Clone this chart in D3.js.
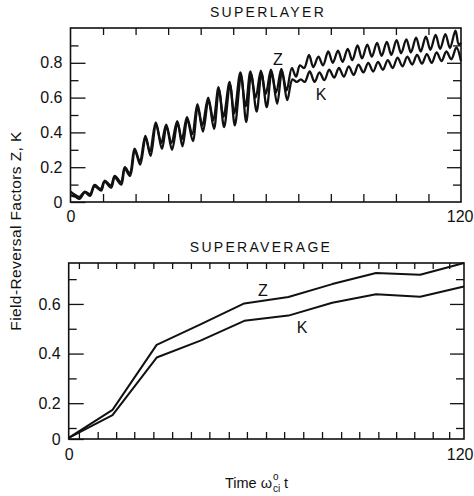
<!DOCTYPE html>
<html>
<head>
<meta charset="utf-8">
<script src="https://cdn.jsdelivr.net/npm/d3@7"></script>
<style>
  body { margin: 0; background: #fff; }
  svg { display: block; font-family: "Liberation Sans", Arial, sans-serif; }
</style>
</head>
<body>
<script>
// superlayer run: Z and K as [time, value]
const zLayer = [
  [0, 0.06], [1.5, 0.04], [2.8, 0.03], [4.4, 0.06], [6.0, 0.045], [7.4, 0.098], [9.3, 0.075],
  [10.5, 0.122], [12.4, 0.095], [13.6, 0.15], [15.5, 0.115], [16.7, 0.2], [18.2, 0.165],
  [19.7, 0.307], [21.3, 0.235], [23.0, 0.38], [24.4, 0.29], [26.2, 0.457], [27.9, 0.34],
  [29.4, 0.445], [31.0, 0.34], [32.8, 0.465], [34.2, 0.36], [35.8, 0.488], [37.4, 0.39],
  [39.0, 0.562], [40.5, 0.44], [42.3, 0.6], [43.9, 0.47], [45.5, 0.66], [47.0, 0.49],
  [48.9, 0.69], [50.3, 0.51], [52.2, 0.745], [53.8, 0.55], [55.3, 0.75], [56.9, 0.6],
  [58.5, 0.755], [60.0, 0.62], [61.6, 0.76], [63.2, 0.63], [64.8, 0.765], [66.4, 0.64],
  [68.0, 0.77], [69.3, 0.72], [70.5, 0.785], [71.8, 0.77], [73.3, 0.845], [74.6, 0.775],
  [76.2, 0.835], [77.6, 0.785], [79.2, 0.865], [80.6, 0.8], [82.2, 0.87], [83.6, 0.805],
  [85.2, 0.88], [86.6, 0.815], [88.2, 0.9], [89.6, 0.825], [91.2, 0.905], [92.6, 0.835],
  [94.2, 0.915], [95.6, 0.84], [97.2, 0.92], [98.6, 0.845], [100.2, 0.93], [101.6, 0.855],
  [103.2, 0.935], [104.6, 0.86], [106.2, 0.945], [107.6, 0.865], [109.2, 0.95], [110.6, 0.875],
  [112.2, 0.96], [113.6, 0.88], [115.2, 0.965], [116.6, 0.885], [118.3, 0.985], [119.3, 0.905],
  [120, 0.915]
];
const kLayer = [
  [0, 0.04], [1.5, 0.03], [2.8, 0.018], [4.4, 0.055], [6.0, 0.035], [7.4, 0.09], [9.4, 0.065],
  [10.5, 0.115], [12.5, 0.082], [13.6, 0.14], [15.6, 0.1], [16.7, 0.19], [18.3, 0.15],
  [19.8, 0.295], [21.4, 0.215], [23.1, 0.37], [24.6, 0.265], [26.3, 0.445], [28.1, 0.305],
  [29.5, 0.435], [31.2, 0.3], [32.9, 0.455], [34.4, 0.32], [35.9, 0.475], [37.6, 0.35],
  [39.1, 0.545], [40.7, 0.405], [42.4, 0.585], [44.1, 0.42], [45.6, 0.645], [47.2, 0.43],
  [49.0, 0.675], [50.5, 0.44], [52.4, 0.725], [54.0, 0.46], [55.5, 0.735], [57.2, 0.52],
  [58.7, 0.74], [60.3, 0.545], [61.8, 0.745], [63.5, 0.565], [65.0, 0.75], [66.6, 0.585],
  [68.2, 0.705], [69.5, 0.69], [70.8, 0.705], [72.0, 0.69], [73.5, 0.75], [75.0, 0.69],
  [76.5, 0.745], [78.0, 0.7], [79.5, 0.76], [81.0, 0.715], [82.5, 0.77], [84.0, 0.72],
  [85.5, 0.78], [87.0, 0.73], [88.5, 0.79], [90.0, 0.745], [91.5, 0.8], [93.0, 0.75],
  [94.5, 0.805], [96.0, 0.76], [97.5, 0.815], [99.0, 0.77], [100.5, 0.83], [102.0, 0.78],
  [103.5, 0.835], [105.0, 0.79], [106.5, 0.845], [108.0, 0.795], [109.5, 0.85], [111.0, 0.8],
  [112.5, 0.86], [114.0, 0.81], [115.5, 0.865], [117.0, 0.82], [118.6, 0.888], [120, 0.81]
];

// superaverage
const avgTimes = [0, 13.3, 26.7, 40, 53.3, 66.7, 80, 93.3, 106.7, 120];
const zAvg = [0.01, 0.173, 0.435, 0.518, 0.602, 0.628, 0.68, 0.725, 0.718, 0.765];
const kAvg = [0.01, 0.152, 0.384, 0.452, 0.532, 0.553, 0.605, 0.639, 0.629, 0.67];

const layerXTicks = [10, 20, 30, 40, 50, 60, 70, 80, 90, 100, 110];
const layerYMinor = [0.1, 0.3, 0.5, 0.7, 0.9];
const layerYMajor = [0, 0.2, 0.4, 0.6, 0.8];
const avgXTicks = [3.1, 8.8, 14.4, 19.9, 25.7, 31.4, 37.1, 42.7, 48.6, 54.1, 59.9, 65.4,
  71.2, 76.9, 82.7, 88.2, 94.0, 99.4, 104.9, 110.5, 115.5];
const avgYMinor = [0.1, 0.3, 0.5, 0.7];
const avgYMajor = [0, 0.2, 0.4, 0.6];
const xEndLabels = [0, 120];

const W = 474, H = 496;
const top1 = {x0: 70.5, x1: 461, y0: 28, y1: 202};
const bot1 = {x0: 68.7, x1: 464, y0: 263, y1: 439};

const xL = d3.scaleLinear().domain([0, 120]).range([top1.x0, top1.x1]);
const yL = d3.scaleLinear().domain([0, 1]).range([top1.y1, top1.y0]);
const xA = d3.scaleLinear().domain([0, 120]).range([bot1.x0, bot1.x1]);
// the printed bottom axis is squeezed below 0.1
const yA = d3.scaleLinear().domain([0, 0.1, 0.765]).range([bot1.y1, 428, bot1.y0]);

const fmt = d => d === 0 ? "0" : d3.format(".1f")(d);

const svg = d3.select("body").append("svg").attr("width", W).attr("height", H);

const style_axis = (g) => {
  g.select(".domain").remove();
  g.attr("font-family", null).attr("font-size", 16);
  g.selectAll("line").attr("stroke", "#111").attr("stroke-width", 1.3);
  g.selectAll("text").attr("fill", "#111");
};

const panel = (fr, x, y, xt, xtSize, yMinor, yMajor, labPad) => {
  const g = svg.append("g");
  g.append("g").attr("transform", `translate(0,${fr.y1})`)
    .call(d3.axisBottom(x).tickValues(xt).tickSize(-xtSize).tickFormat("")).call(style_axis);
  g.append("g").attr("transform", `translate(0,${fr.y0})`)
    .call(d3.axisTop(x).tickValues(xt).tickSize(-xtSize + 1).tickFormat("")).call(style_axis);
  const ends = g.append("g").attr("transform", `translate(0,${fr.y1})`)
    .call(d3.axisBottom(x).tickValues(xEndLabels).tickSize(0).tickPadding(labPad)).call(style_axis);
  // the right label sits against the page edge
  ends.selectAll("text").filter(d => d === 120)
    .attr("text-anchor", "end").attr("x", W - 1 - x(120));
  g.append("g").attr("transform", `translate(${fr.x0},0)`)
    .call(d3.axisLeft(y).tickValues(yMinor).tickSize(-8).tickFormat("")).call(style_axis);
  g.append("g").attr("transform", `translate(${fr.x0},0)`)
    .call(d3.axisLeft(y).tickValues(yMajor).tickSize(-15).tickPadding(8).tickFormat(fmt)).call(style_axis);
  g.append("g").attr("transform", `translate(${fr.x1},0)`)
    .call(d3.axisRight(y).tickValues(yMinor).tickSize(-8).tickFormat("")).call(style_axis);
  g.append("g").attr("transform", `translate(${fr.x1},0)`)
    .call(d3.axisRight(y).tickValues(yMajor.filter(v => v > 0)).tickSize(-14).tickFormat("")).call(style_axis);
  g.append("rect")
    .attr("x", fr.x0).attr("y", fr.y0)
    .attr("width", fr.x1 - fr.x0).attr("height", fr.y1 - fr.y0)
    .attr("fill", "none").attr("stroke", "#111").attr("stroke-width", 1.6);
  return g;
};

const gL = panel(top1, xL, yL, layerXTicks, 8, layerYMinor, layerYMajor, 9);
const gA = panel(bot1, xA, yA, avgXTicks, 7, avgYMinor, avgYMajor, 10);

const lineL = d3.line().x(d => xL(d[0])).y(d => yL(d[1])).curve(d3.curveCatmullRom.alpha(0.5));
[zLayer, kLayer].forEach(s => {
  gL.append("path").datum(s)
    .attr("fill", "none").attr("stroke", "#111").attr("stroke-width", 2.3)
    .attr("stroke-linejoin", "round").attr("d", lineL);
});

const lineA = d3.line().x((d, i) => xA(avgTimes[i])).y(d => yA(d));
[zAvg, kAvg].forEach(s => {
  gA.append("path").datum(s)
    .attr("fill", "none").attr("stroke", "#111").attr("stroke-width", 2)
    .attr("stroke-linejoin", "round").attr("d", lineA);
});

const label = (x, y, txt, size, anchor) => svg.append("text")
  .attr("x", x).attr("y", y).attr("font-size", size).attr("fill", "#111")
  .attr("text-anchor", anchor || "middle").text(txt);

// curve labels
label(278, 65, "Z", 16);
label(321, 100, "K", 16);
label(263, 296, "Z", 16);
label(302, 333, "K", 16);

// titles
label(268, 17, "SUPERLAYER", 14).attr("letter-spacing", 2.3);
label(261, 252, "SUPERAVERAGE", 14).attr("letter-spacing", 2.3);

// y axis title
svg.append("text")
  .attr("transform", "translate(21,231) rotate(-90)")
  .attr("text-anchor", "middle").attr("font-size", 15.5).attr("fill", "#111")
  .attr("letter-spacing", 0.4)
  .text("Field-Reversal Factors Z, K");

// x axis title: Time ω with stacked o / ci
const tx = label(225, 488, "Time ω", 14.5, "start");
const tw = tx.node().getComputedTextLength();
label(225 + tw + 1, 480, "o", 10, "start");
label(225 + tw + 1, 492, "ci", 10, "start");
label(225 + tw + 12, 488, "t", 14.5, "start");
</script>
</body>
</html>
